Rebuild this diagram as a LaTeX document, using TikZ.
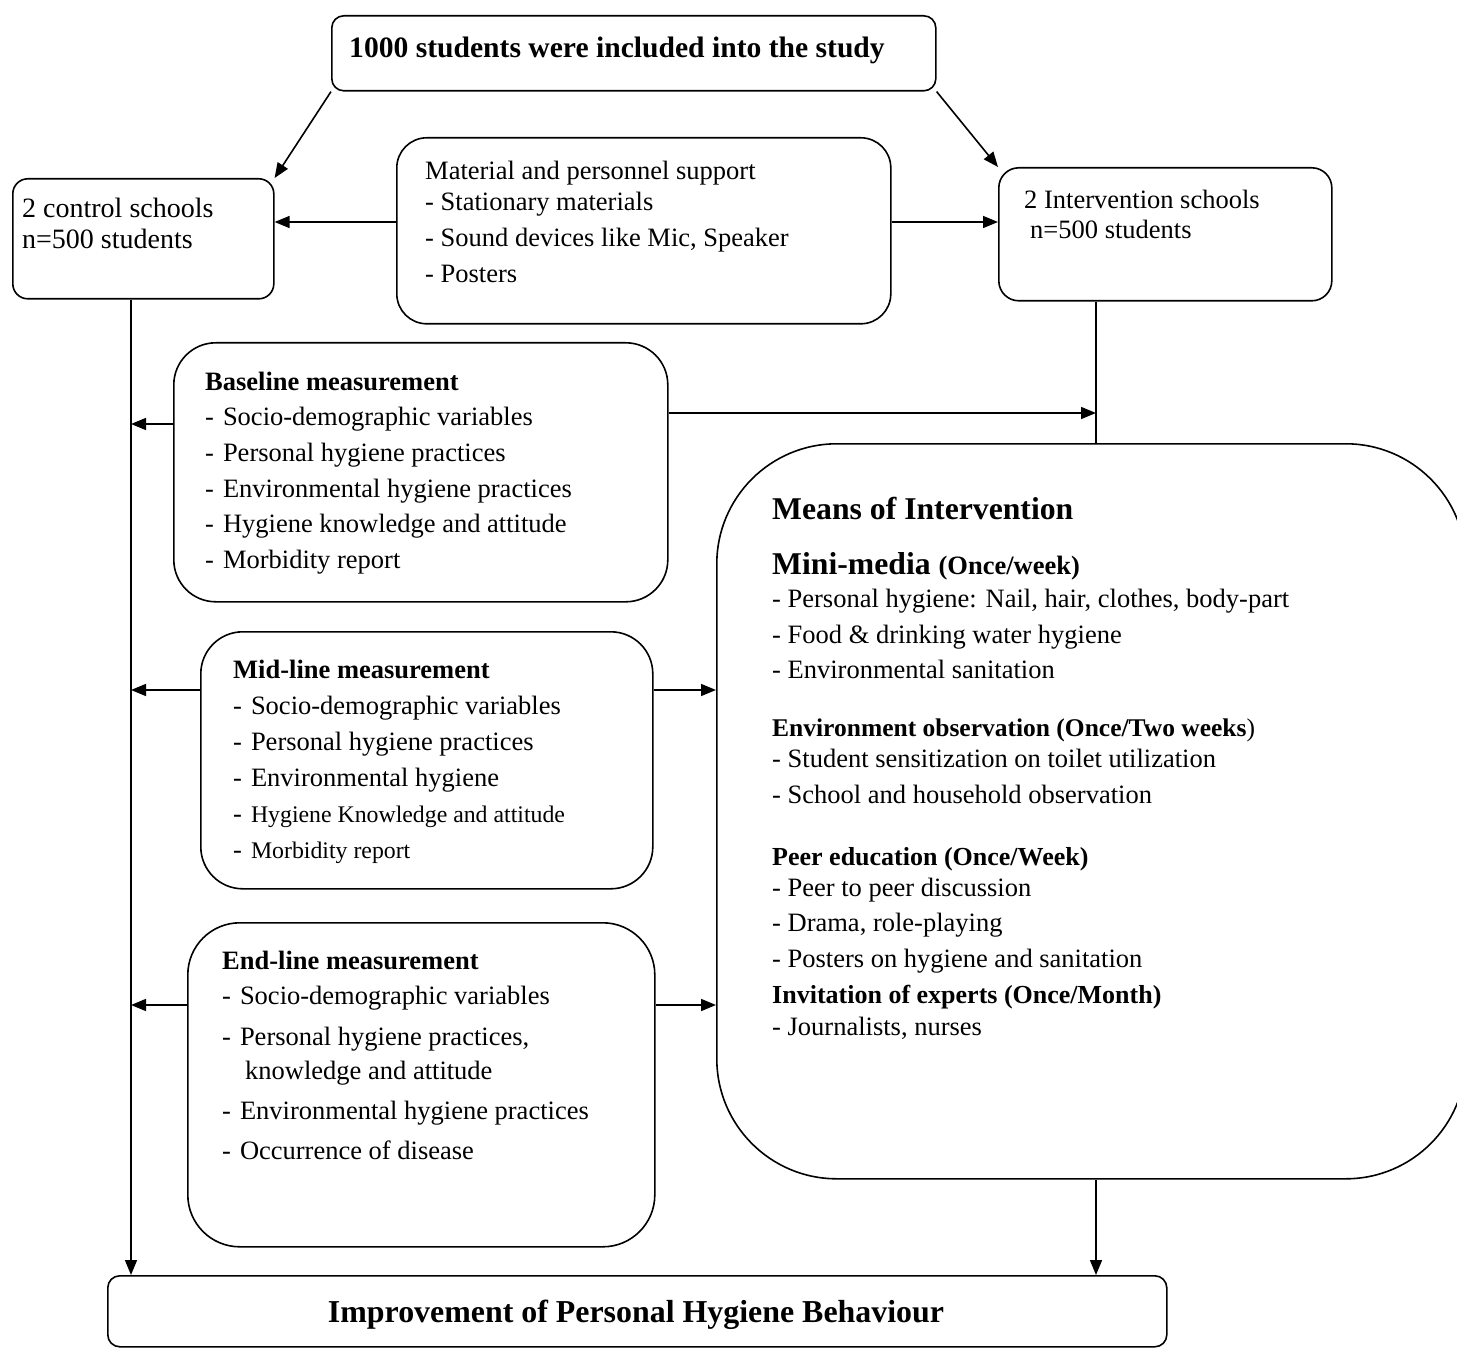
\documentclass[tikz,border=0pt]{standalone}
\usepackage{fontspec}
\setmainfont{Liberation Serif}
\usetikzlibrary{arrows.meta}
\newcommand\myfs[1]{\fontsize{#1}{#1}\selectfont}
\begin{document}
\begin{tikzpicture}[x=1pt,y=-1pt,
  box/.style={draw, line width=1.6pt, rounded corners=#1, inner sep=0pt, anchor=north west},
  box/.default=15,
  txt/.style={anchor=base west, inner sep=0pt, font=\myfs{26.5}},
  hd/.style={anchor=base west, inner sep=0pt, font=\myfs{26.5}\bfseries},
  ln/.style={line width=1.6pt},
  arr/.style={line width=1.6pt, -{Triangle[length=15pt,width=12pt]}}]
\useasboundingbox (0,0) rectangle (1457,1348);
\clip (0,0) rectangle (1457,1348);
% boxes
\node[box=12, minimum width=604pt, minimum height=75pt] (top) at (331,15) {};
\node[box=15, minimum width=261pt, minimum height=120pt] (ctl) at (12,178) {};
\node[box=30, minimum width=494pt, minimum height=186pt] (mat) at (396,137) {};
\node[box=20, minimum width=333pt, minimum height=133pt] (int) at (998,167) {};
\node[box=42, minimum width=494pt, minimum height=259pt] (bl) at (173,342) {};
\node[box=120, minimum width=749pt, minimum height=735pt] (mi) at (716,443) {};
\node[box=42, minimum width=452pt, minimum height=257pt] (ml) at (200,631) {};
\node[box=52, minimum width=467pt, minimum height=324pt] (el) at (187,922) {};
\node[box=12, minimum width=1059pt, minimum height=71pt] (imp) at (107,1275) {};
% helper coordinates
\coordinate (lx) at (131,0);
\coordinate (rx) at (1096,0);
\coordinate (yA) at (0,222);
\coordinate (yB) at (1096,413);
\coordinate (yBl) at (131,424);
\coordinate (yM) at (0,690);
\coordinate (yE) at (0,1005);
% texts
\node[anchor=base west, inner sep=0pt, font=\myfs{29.6}\bfseries] (t1) at (349,58) {1000 students were included into the study};
\node[anchor=base west, inner sep=0pt, font=\myfs{28}] (c1) at (22,218) {2 control schools};
\node[anchor=base west, inner sep=0pt, font=\myfs{28}] (c2) at (22,249) {n=500 students};
\node[txt] (m1) at (425,180) {Material and personnel support};
\node[txt] (m2) at (425,211) {- Stationary materials};
\node[txt] (m3) at (425,247) {- Sound devices like Mic, Speaker};
\node[txt] (m4) at (425,283) {- Posters};
\node[txt] (i1) at (1024,209) {2 Intervention schools};
\node[txt] (i2) at (1030,239) {n=500 students};
% baseline
\node[hd] (b0) at (205,390) {Baseline measurement};
\node[txt] (b1) at (205,425) {-\hspace{9pt}Socio-demographic variables};
\node[txt] (b2) at (205,461) {-\hspace{9pt}Personal hygiene practices};
\node[txt] (b3) at (205,497) {-\hspace{9pt}Environmental hygiene practices};
\node[txt] (b4) at (205,532) {-\hspace{9pt}Hygiene knowledge and attitude};
\node[txt] (b5) at (205,568) {-\hspace{9pt}Morbidity report};
% midline
\node[hd] (d0) at (233,678) {Mid-line measurement};
\node[txt] (d1) at (233,714) {-\hspace{9pt}Socio-demographic variables};
\node[txt] (d2) at (233,750) {-\hspace{9pt}Personal hygiene practices};
\node[txt] (d3) at (233,786) {-\hspace{9pt}Environmental hygiene};
\node[txt] (d4) at (233,822) {-\hspace{9pt}{\myfs{23.8}Hygiene Knowledge and attitude}};
\node[txt] (d5) at (233,858) {-\hspace{9pt}{\myfs{23.8}Morbidity report}};
% endline
\node[hd] (e0) at (222,969) {End-line measurement};
\node[txt] (e1) at (222,1004) {-\hspace{9pt}Socio-demographic variables};
\node[txt] (e2) at (222,1045) {-\hspace{9pt}Personal hygiene practices,};
\node[txt] (e3) at (245,1079) {knowledge and attitude};
\node[txt] (e4) at (222,1119) {-\hspace{9pt}Environmental hygiene practices};
\node[txt] (e5) at (222,1159) {-\hspace{9pt}Occurrence of disease};
% means of intervention
\node[anchor=base west, inner sep=0pt, font=\myfs{31.7}\bfseries] (n0) at (772,519) {Means of Intervention};
\node[anchor=base west, inner sep=0pt, font=\myfs{31.7}\bfseries] (n1) at (772,574) {Mini-media {\myfs{26.5}(Once/week)}};
\node[txt] (n2) at (772,607) {- Personal hygiene: Nail, hair, clothes, body-part};
\node[txt] (n3) at (772,643) {- Food \& drinking water hygiene};
\node[txt] (n4) at (772,678) {- Environmental sanitation};
\node[anchor=base west, inner sep=0pt, font=\myfs{25.5}\bfseries] (n5) at (772,736) {Environment observation (Once/Two weeks\mdseries)};
\node[txt] (n6) at (772,767) {- Student sensitization on toilet utilization};
\node[txt] (n7) at (772,803) {- School and household observation};
\node[anchor=base west, inner sep=0pt, font=\myfs{26}\bfseries] (n8) at (772,865) {Peer education (Once/Week)};
\node[txt] (n9) at (772,896) {- Peer to peer discussion};
\node[txt] (n10) at (772,931) {- Drama, role-playing};
\node[txt] (n11) at (772,967) {- Posters on hygiene and sanitation};
\node[anchor=base west, inner sep=0pt, font=\myfs{26}\bfseries] (n12) at (772,1003) {Invitation of experts (Once/Month)};
\node[txt] (n13) at (772,1035) {- Journalists, nurses};
\node[anchor=base, inner sep=0pt, font=\myfs{31.9}\bfseries] (p0) at (636,1322) {Improvement of Personal Hygiene Behaviour};
% connectors
\draw[arr] (top.south west) -- (ctl.north east);
\draw[arr] (top.south east) -- (int.north west);
\draw[arr] (mat.west |- yA) -- (ctl.east |- yA);
\draw[arr] (mat.east |- yA) -- (int.west |- yA);
\draw[arr] (ctl.south -| lx) -- (imp.north -| lx);
\draw[ln] (int.south -| rx) -- (mi.north -| rx);
\draw[arr] (mi.south -| rx) -- (imp.north -| rx);
\draw[arr] (bl.east |- yB) -- (yB);
\draw[arr] (bl.west |- yBl) -- (yBl);
\draw[arr] (ml.west |- yM) -- (lx |- yM);
\draw[arr] (ml.east |- yM) -- (mi.west |- yM);
\draw[arr] (el.west |- yE) -- (lx |- yE);
\draw[arr] (el.east |- yE) -- (mi.west |- yE);
\end{tikzpicture}
\end{document}
